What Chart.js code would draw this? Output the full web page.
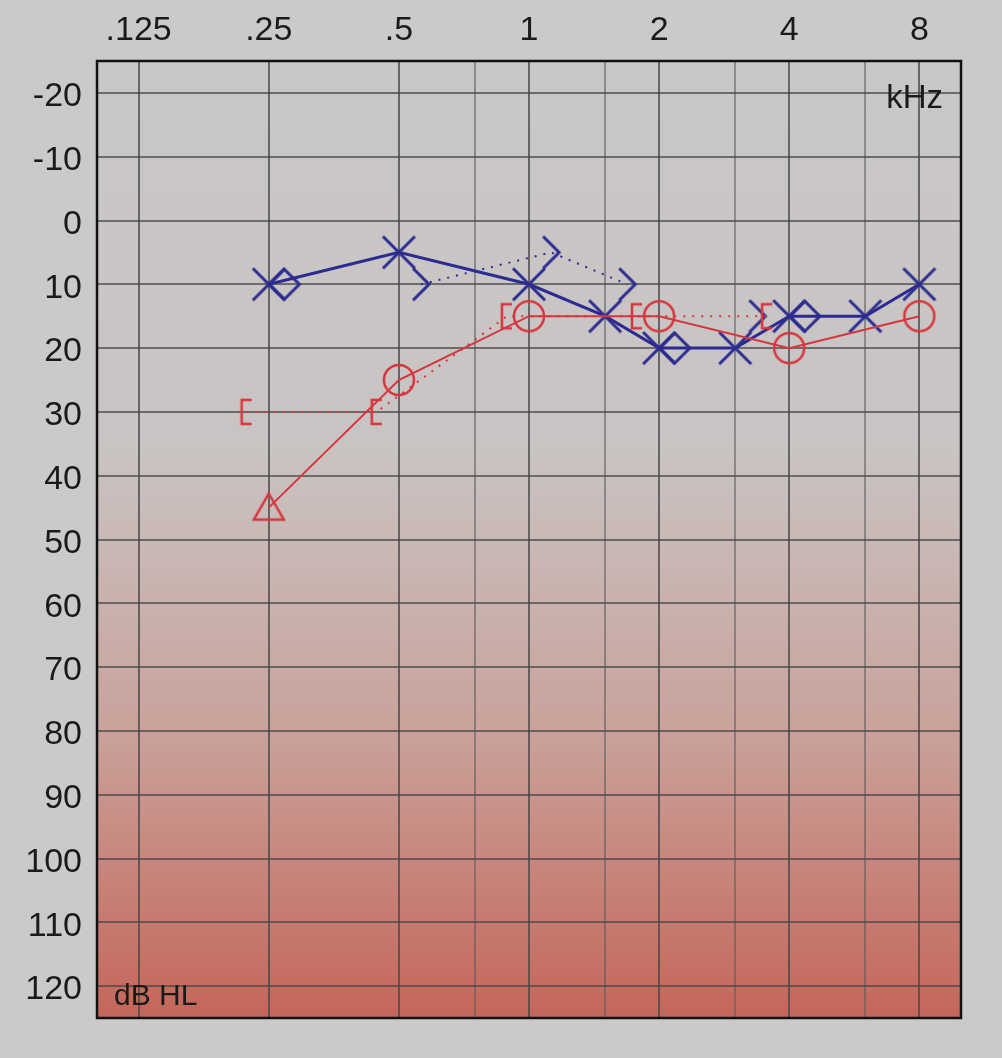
<!DOCTYPE html>
<html>
<head>
<meta charset="utf-8">
<script src="https://cdn.jsdelivr.net/npm/chart.js@4.4.1/dist/chart.umd.min.js"></script>
<style>
  body { margin: 0; background: #cbcaca; }
  #wrap { width: 1002px; height: 1058px; }
</style>
</head>
<body>
<div id="wrap"><canvas id="audiogram" width="1002" height="1058"></canvas></div>
<script>
// frekvenser (kHz) och trösklar (dB HL)
const freqTicks = [0.125, 0.25, 0.5, 0.75, 1, 1.5, 2, 3, 4, 6, 8];
const freqLabels = ['.125', '.25', '.5', '', '1', '', '2', '', '4', '', '8'];
const dbTicks = [-20, -10, 0, 10, 20, 30, 40, 50, 60, 70, 80, 90, 100, 110, 120];

// vänster öra (blått)
const leftAirFreq = [0.25, 0.5, 1, 1.5, 2, 3, 4, 6, 8];
const leftAir = [10, 5, 10, 15, 20, 20, 15, 15, 10];
const leftDiamondFreq = [0.25, 2, 4];
const leftDiamond = [10, 20, 15];
const leftBoneFreq = [0.5, 1, 1.5, 2, 3];
const leftBone = [10, 5, 10, null, 15];

// höger öra (rött)
const rightAirFreq = [0.25, 0.5, 1, 2, 4, 8];
const rightAir = [45, 25, 15, 15, 20, 15];
const rightBoneFreq = [0.25, 0.5, 1, 2, 4];
const rightBone = [30, 30, 15, 15, 15];

const blue = '#2c2c90';
const red = '#d6363e';

// ritar symbolerna på små canvas
function symbol(kind, color) {
  const c = document.createElement('canvas');
  c.width = 44; c.height = 44;
  const g = c.getContext('2d');
  const m = 22;
  g.strokeStyle = color;
  g.lineWidth = 3;
  g.beginPath();
  if (kind === 'x') {
    g.moveTo(m - 16, m - 16); g.lineTo(m + 16, m + 16);
    g.moveTo(m + 16, m - 16); g.lineTo(m - 16, m + 16);
  } else if (kind === 'o') {
    g.lineWidth = 2.5;
    g.arc(m, m, 15, 0, Math.PI * 2);
  } else if (kind === 'diamond') {
    g.moveTo(m, m - 15); g.lineTo(m + 15, m); g.lineTo(m, m + 15); g.lineTo(m - 15, m); g.closePath();
  } else if (kind === 'tri') {
    g.lineWidth = 2.5;
    g.moveTo(m, m - 14); g.lineTo(m + 15, m + 12); g.lineTo(m - 15, m + 12); g.closePath();
  } else if (kind === 'bracket') {
    g.lineWidth = 2.5;
    g.moveTo(m + 5, m - 12); g.lineTo(m - 5, m - 12); g.lineTo(m - 5, m + 12); g.lineTo(m + 5, m + 12);
  } else if (kind === 'gt') {
    g.moveTo(m - 8, m - 16); g.lineTo(m + 8, m); g.lineTo(m - 8, m + 16);
  }
  g.stroke();
  return c;
}

const oct = f => Math.log2(f);
// benledning ritas lite vid sidan av frekvensen
const pts = (freqs, vals, shift) => freqs.map((f, i) => ({ x: oct(f) + shift, y: vals[i] }));

const bgPlugin = {
  id: 'bg',
  beforeDraw(chart) {
    const a = chart.chartArea;
    const ctx = chart.ctx;
    const grad = ctx.createLinearGradient(0, a.top, 0, a.bottom);
    grad.addColorStop(0, '#c9c7c7');
    grad.addColorStop(0.4, '#c9c4c3');
    grad.addColorStop(0.7, '#c9a29b');
    grad.addColorStop(1, '#c5665a');
    ctx.save();
    ctx.fillStyle = grad;
    ctx.fillRect(a.left, a.top, a.right - a.left, a.bottom - a.top);
    ctx.restore();
  },
  afterDraw(chart) {
    const a = chart.chartArea;
    const ctx = chart.ctx;
    ctx.save();
    ctx.strokeStyle = '#111';
    ctx.lineWidth = 2.5;
    ctx.strokeRect(a.left, a.top, a.right - a.left, a.bottom - a.top);
    ctx.fillStyle = '#1a1a1a';
    ctx.font = '33px "Liberation Sans", Arial, sans-serif';
    ctx.textAlign = 'right';
    ctx.fillText('kHz', a.right - 18, a.top + 47);
    ctx.textAlign = 'left';
    ctx.font = '30px "Liberation Sans", Arial, sans-serif';
    ctx.fillText('dB HL', a.left + 17, a.bottom - 13);
    ctx.restore();
  }
};

const triangle = symbol('tri', red);
const circle = symbol('o', red);

new Chart(document.getElementById('audiogram'), {
  type: 'scatter',
  data: {
    datasets: [
      {
        data: pts(rightBoneFreq, rightBone, -0.17),
        showLine: true,
        borderColor: red,
        borderWidth: 2,
        borderDash: [2, 7],
        pointStyle: symbol('bracket', red),
        pointRadius: 10
      },
      {
        data: pts(leftBoneFreq, leftBone, 0.17),
        showLine: true,
        spanGaps: false,
        borderColor: blue,
        borderWidth: 2,
        borderDash: [2, 7],
        pointStyle: symbol('gt', blue),
        pointRadius: 10
      },
      {
        data: pts(leftDiamondFreq, leftDiamond, 0.12),
        showLine: false,
        pointStyle: symbol('diamond', blue),
        pointRadius: 10
      },
      {
        data: pts(rightAirFreq, rightAir, 0),
        showLine: true,
        borderColor: red,
        borderWidth: 2,
        pointStyle: rightAir.map((v, i) => i === 0 ? triangle : circle),
        pointRadius: 10
      },
      {
        data: pts(leftAirFreq, leftAir, 0),
        showLine: true,
        borderColor: blue,
        borderWidth: 3,
        pointStyle: symbol('x', blue),
        pointRadius: 10
      }
    ]
  },
  options: {
    responsive: false,
    animation: false,
    devicePixelRatio: 1,
    layout: { padding: { left: 0, top: 0, right: 41, bottom: 40 } },
    plugins: { legend: { display: false }, tooltip: { enabled: false } },
    scales: {
      x: {
        type: 'linear',
        position: 'top',
        min: -3.32,
        max: 3.32,
        afterBuildTicks: s => { s.ticks = freqTicks.map(f => ({ value: oct(f) })); },
        afterFit: s => { s.height = 61; },
        ticks: {
          autoSkip: false,
          maxRotation: 0,
          padding: 10,
          color: '#1a1a1a',
          font: { size: 34, family: '"Liberation Sans", Arial, sans-serif' },
          callback: (v, i) => freqLabels[i]
        },
        grid: {
          drawTicks: false,
          lineWidth: 2,
          color: c => freqLabels[c.index] ? 'rgba(70,70,70,0.75)' : 'rgba(90,90,90,0.55)'
        },
        border: { display: false }
      },
      y: {
        type: 'linear',
        reverse: true,
        min: -25,
        max: 125,
        afterBuildTicks: s => { s.ticks = dbTicks.map(v => ({ value: v })); },
        afterFit: s => { s.width = 97; },
        ticks: {
          padding: 15,
          labelOffset: 4,
          color: '#1a1a1a',
          font: { size: 34, family: '"Liberation Sans", Arial, sans-serif' }
        },
        grid: { drawTicks: false, lineWidth: 2, color: 'rgba(70,70,70,0.7)' },
        border: { display: false }
      }
    }
  },
  plugins: [bgPlugin]
});
</script>
</body>
</html>
